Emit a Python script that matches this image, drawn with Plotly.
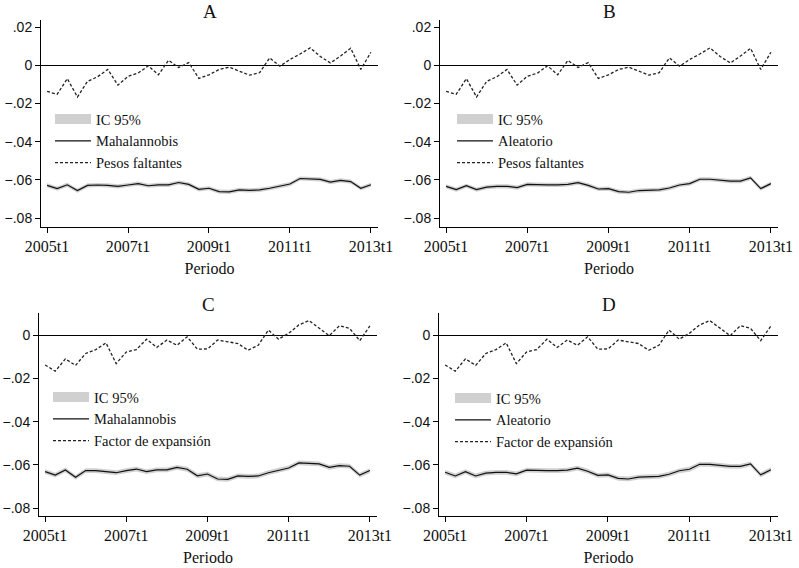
import plotly.graph_objects as go

# ---------------- data ----------------
quarters = [f"{y}t{q}" for y in range(2005, 2014) for q in range(1, 5)][:33]
tick_labels = ["2005t1", "2007t1", "2009t1", "2011t1", "2013t1"]

# Panel A: Mahalannobis / Pesos faltantes
est_A = [-0.0629, -0.0646, -0.0626, -0.0656, -0.0629, -0.0627, -0.0629, -0.0634, -0.0627, -0.0620, -0.0631,
         -0.0626, -0.0626, -0.0614, -0.0624, -0.0650, -0.0644, -0.0662, -0.0663, -0.0653, -0.0655, -0.0653,
         -0.0644, -0.0634, -0.0622, -0.0593, -0.0597, -0.0598, -0.0612, -0.0603, -0.0609, -0.0644, -0.0626]
lo_A = [-0.0640, -0.0657, -0.0637, -0.0667, -0.0640, -0.0638, -0.0640, -0.0645, -0.0638, -0.0631, -0.0642,
        -0.0637, -0.0637, -0.0625, -0.0635, -0.0661, -0.0655, -0.0673, -0.0674, -0.0664, -0.0666, -0.0664,
        -0.0655, -0.0645, -0.0633, -0.0604, -0.0608, -0.0609, -0.0623, -0.0614, -0.0620, -0.0655, -0.0637]
hi_A = [-0.0618, -0.0635, -0.0615, -0.0645, -0.0618, -0.0616, -0.0618, -0.0623, -0.0616, -0.0609, -0.0620,
        -0.0615, -0.0615, -0.0603, -0.0613, -0.0639, -0.0633, -0.0651, -0.0652, -0.0642, -0.0644, -0.0642,
        -0.0633, -0.0623, -0.0611, -0.0582, -0.0586, -0.0587, -0.0601, -0.0592, -0.0598, -0.0633, -0.0615]
ref_A = [-0.0137, -0.0152, -0.0070, -0.0166, -0.0084, -0.0060, -0.0022, -0.0104, -0.0058, -0.0041, -0.0003,
         -0.0050, 0.0026, -0.0012, 0.0014, -0.0069, -0.0050, -0.0022, -0.0010, -0.0030, -0.0052, -0.0039,
         0.0039, -0.0005, 0.0030, 0.0059, 0.0091, 0.0046, 0.0012, 0.0048, 0.0089, -0.0022, 0.0068]

# Panel B: Aleatorio / Pesos faltantes
est_B = [-0.0634, -0.0651, -0.0631, -0.0651, -0.0638, -0.0634, -0.0634, -0.0641, -0.0624, -0.0626, -0.0626,
         -0.0626, -0.0624, -0.0615, -0.0629, -0.0648, -0.0646, -0.0662, -0.0665, -0.0656, -0.0656, -0.0653,
         -0.0643, -0.0627, -0.0620, -0.0597, -0.0597, -0.0602, -0.0607, -0.0607, -0.0590, -0.0646, -0.0620]
lo_B = [-0.0645, -0.0662, -0.0642, -0.0662, -0.0649, -0.0645, -0.0645, -0.0652, -0.0635, -0.0637, -0.0637,
        -0.0637, -0.0635, -0.0626, -0.0640, -0.0659, -0.0657, -0.0673, -0.0676, -0.0667, -0.0667, -0.0664,
        -0.0654, -0.0638, -0.0631, -0.0608, -0.0608, -0.0613, -0.0618, -0.0618, -0.0601, -0.0657, -0.0631]
hi_B = [-0.0623, -0.0640, -0.0620, -0.0640, -0.0627, -0.0623, -0.0623, -0.0630, -0.0613, -0.0615, -0.0615,
        -0.0615, -0.0613, -0.0604, -0.0618, -0.0637, -0.0635, -0.0651, -0.0654, -0.0645, -0.0645, -0.0642,
        -0.0632, -0.0616, -0.0609, -0.0586, -0.0586, -0.0591, -0.0596, -0.0596, -0.0579, -0.0635, -0.0609]
ref_B = [-0.0137, -0.0152, -0.0070, -0.0166, -0.0084, -0.0060, -0.0022, -0.0104, -0.0058, -0.0041, -0.0003,
         -0.0050, 0.0026, -0.0012, 0.0014, -0.0069, -0.0050, -0.0022, -0.0010, -0.0030, -0.0052, -0.0039,
         0.0039, -0.0005, 0.0030, 0.0059, 0.0091, 0.0046, 0.0012, 0.0048, 0.0089, -0.0022, 0.0068]

# Panel C: Mahalannobis / Factor de expansión
est_C = [-0.0631, -0.0647, -0.0623, -0.0657, -0.0626, -0.0626, -0.0631, -0.0636, -0.0626, -0.0619, -0.0631,
         -0.0623, -0.0623, -0.0611, -0.0620, -0.0650, -0.0642, -0.0665, -0.0667, -0.0651, -0.0653, -0.0651,
         -0.0636, -0.0626, -0.0614, -0.0591, -0.0592, -0.0595, -0.0611, -0.0603, -0.0606, -0.0647, -0.0626]
lo_C = [-0.0642, -0.0658, -0.0634, -0.0668, -0.0637, -0.0637, -0.0642, -0.0647, -0.0637, -0.0630, -0.0642,
        -0.0634, -0.0634, -0.0622, -0.0631, -0.0661, -0.0653, -0.0676, -0.0678, -0.0662, -0.0664, -0.0662,
        -0.0647, -0.0637, -0.0625, -0.0602, -0.0603, -0.0606, -0.0622, -0.0614, -0.0617, -0.0658, -0.0637]
hi_C = [-0.0620, -0.0636, -0.0612, -0.0646, -0.0615, -0.0615, -0.0620, -0.0625, -0.0615, -0.0608, -0.0620,
        -0.0612, -0.0612, -0.0600, -0.0609, -0.0639, -0.0631, -0.0654, -0.0656, -0.0640, -0.0642, -0.0640,
        -0.0625, -0.0615, -0.0603, -0.0580, -0.0581, -0.0584, -0.0600, -0.0592, -0.0595, -0.0636, -0.0615]
ref_C = [-0.0138, -0.0167, -0.0110, -0.0140, -0.0085, -0.0067, -0.0036, -0.0132, -0.0078, -0.0067, -0.0019,
         -0.0057, -0.0023, -0.0047, -0.0008, -0.0065, -0.0064, -0.0023, -0.0031, -0.0039, -0.0070, -0.0047,
         0.0023, -0.0019, 0.0008, 0.0047, 0.0067, 0.0031, -0.0003, 0.0043, 0.0031, -0.0026, 0.0042]

# Panel D: Aleatorio / Factor de expansión
est_D = [-0.0634, -0.0651, -0.0631, -0.0651, -0.0638, -0.0634, -0.0634, -0.0641, -0.0624, -0.0626, -0.0626,
         -0.0626, -0.0624, -0.0615, -0.0629, -0.0648, -0.0646, -0.0662, -0.0665, -0.0656, -0.0656, -0.0653,
         -0.0643, -0.0627, -0.0620, -0.0597, -0.0597, -0.0602, -0.0607, -0.0607, -0.0595, -0.0646, -0.0622]
lo_D = [-0.0645, -0.0662, -0.0642, -0.0662, -0.0649, -0.0645, -0.0645, -0.0652, -0.0635, -0.0637, -0.0637,
        -0.0637, -0.0635, -0.0626, -0.0640, -0.0659, -0.0657, -0.0673, -0.0676, -0.0667, -0.0667, -0.0664,
        -0.0654, -0.0638, -0.0631, -0.0608, -0.0608, -0.0613, -0.0618, -0.0618, -0.0606, -0.0657, -0.0633]
hi_D = [-0.0623, -0.0640, -0.0620, -0.0640, -0.0627, -0.0623, -0.0623, -0.0630, -0.0613, -0.0615, -0.0615,
        -0.0615, -0.0613, -0.0604, -0.0618, -0.0637, -0.0635, -0.0651, -0.0654, -0.0645, -0.0645, -0.0642,
        -0.0632, -0.0616, -0.0609, -0.0586, -0.0586, -0.0591, -0.0596, -0.0596, -0.0584, -0.0635, -0.0611]
ref_D = [-0.0138, -0.0167, -0.0110, -0.0140, -0.0085, -0.0067, -0.0036, -0.0132, -0.0078, -0.0067, -0.0019,
         -0.0057, -0.0023, -0.0047, -0.0008, -0.0065, -0.0064, -0.0023, -0.0031, -0.0039, -0.0070, -0.0047,
         0.0023, -0.0019, 0.0008, 0.0047, 0.0067, 0.0031, -0.0003, 0.0043, 0.0031, -0.0026, 0.0042]

panel_titles = ["A", "B", "C", "D"]
method_names = ["Mahalannobis", "Aleatorio", "Mahalannobis", "Aleatorio"]
ref_names = ["Pesos faltantes", "Pesos faltantes", "Factor de expansión", "Factor de expansión"]
ci_name = "IC 95%"
x_title = "Periodo"
ytick_top = [0.02, 0, -0.02, -0.04, -0.06, -0.08]
ytext_top = [".02", "0", "\u2212.02", "\u2212.04", "\u2212.06", "\u2212.08"]
ytick_bot = [0, -0.02, -0.04, -0.06, -0.08]
ytext_bot = ["0", "\u2212.02", "\u2212.04", "\u2212.06", "\u2212.08"]

# ---------------- style / layout ----------------
SERIF = "Liberation Serif"
SANS = "Liberation Sans"
W, H = 799, 568
band_color = "rgb(208,208,208)"

est = [est_A, est_B, est_C, est_D]
lo = [lo_A, lo_B, lo_C, lo_D]
hi = [hi_A, hi_B, hi_C, hi_D]
ref = [ref_A, ref_B, ref_C, ref_D]

# pixel geometry of each plot area: (left, right, top, bottom)
geo = [(41, 378, 20, 227), (440, 778, 20, 227), (39, 377, 313, 516), (439, 778, 313, 516)]
yranges = [[-0.0847, 0.0237], [-0.0847, 0.0237], [-0.0836, 0.0102], [-0.0836, 0.0102]]
legend_pos = [(50, 103), (452, 103), (48, 381), (450, 382)]
title_y = [12, 12, 304, 304]

fig = go.Figure()
layout = dict(width=W, height=H, margin=dict(l=0, r=0, t=0, b=0, autoexpand=False),
              paper_bgcolor="white", plot_bgcolor="white", showlegend=True,
              template="none")
annotations = []

for i in range(4):
    sfx = "" if i == 0 else str(i + 1)
    xa, ya = "x" + sfx, "y" + sfx
    lg = "legend" + sfx
    # CI band
    fig.add_trace(go.Scatter(x=quarters, y=lo[i], xaxis=xa, yaxis=ya, mode="lines",
                             line=dict(width=0, color=band_color), showlegend=False,
                             hoverinfo="skip", legend=lg))
    fig.add_trace(go.Scatter(x=quarters, y=hi[i], xaxis=xa, yaxis=ya, mode="lines",
                             line=dict(width=0, color=band_color), fill="tonexty",
                             fillcolor=band_color, name=ci_name, showlegend=False, legend=lg))
    # legend entry for the band (thick grey key)
    fig.add_trace(go.Scatter(x=[None], y=[None], xaxis=xa, yaxis=ya, mode="lines",
                             line=dict(width=12, color=band_color), name=ci_name, legend=lg))
    # estimate
    fig.add_trace(go.Scatter(x=quarters, y=est[i], xaxis=xa, yaxis=ya, mode="lines",
                             line=dict(color="#111111", width=1.2), name=method_names[i], legend=lg))
    # reference (dashed)
    fig.add_trace(go.Scatter(x=quarters, y=ref[i], xaxis=xa, yaxis=ya, mode="lines",
                             line=dict(color="#222222", width=1.3, dash="3px,2px"),
                             name=ref_names[i], legend=lg))

    l, r, t, b = geo[i]
    top_panel = i < 2
    layout["xaxis" + sfx] = dict(
        domain=[l / W, r / W], anchor=ya, type="category", range=[-0.6, 32.7],
        tickmode="array", tickvals=tick_labels, ticktext=tick_labels, automargin=False,
        showline=True, linecolor="black", linewidth=1, ticks="outside", ticklen=5,
        tickcolor="black", showgrid=False, zeroline=False,
        tickfont=dict(family=SERIF, size=16, color="#111"),
        title=dict(text=x_title, font=dict(family=SERIF, size=16, color="#111"), standoff=8))
    layout["yaxis" + sfx] = dict(
        domain=[1 - b / H, 1 - t / H], anchor=xa, range=yranges[i], automargin=False,
        tickmode="array", tickvals=ytick_top if top_panel else ytick_bot,
        ticktext=ytext_top if top_panel else ytext_bot,
        showline=True, linecolor="black", linewidth=1, ticks="outside", ticklen=5,
        tickcolor="black", showgrid=False, zeroline=True, zerolinecolor="black",
        zerolinewidth=1.2, tickfont=dict(family=SANS, size=14, color="#111"))
    lx, ly = legend_pos[i]
    layout[lg] = dict(x=lx / W, y=1 - ly / H, xanchor="left", yanchor="top",
                      xref="paper", yref="paper", bgcolor="rgba(0,0,0,0)",
                      font=dict(family=SERIF, size=14.5, color="#111"), tracegroupgap=0,
                      itemwidth=36, traceorder="normal", borderwidth=0)
    annotations.append(dict(text=panel_titles[i], x=(l + r) / 2 / W, y=1 - title_y[i] / H,
                            xref="paper", yref="paper", showarrow=False, xanchor="center",
                            yanchor="middle", font=dict(family=SERIF, size=19, color="#111")))

layout["annotations"] = annotations
fig.update_layout(**layout)
fig.write_html("out.html", config={"displayModeBar": False},
               post_script="document.body.style.margin='0px';document.body.style.overflow='hidden';")
